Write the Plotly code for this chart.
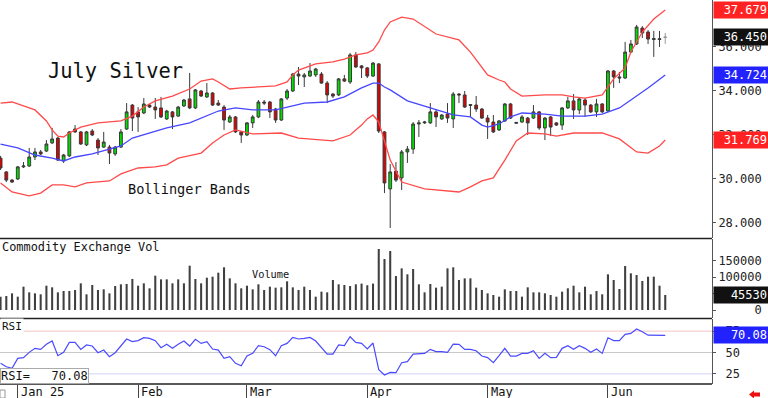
import plotly.graph_objects as go

# ---------------- data ----------------
opens = [30.95, 30.32, 29.95, 30.00, 30.55, 30.59, 31.00, 31.23, 31.27, 31.64,
         31.86, 30.82, 31.05, 32.27, 32.14, 31.55, 32.18, 31.77, 31.45, 31.45,
         31.14, 31.45, 32.27, 33.36, 33.05, 33.00, 33.36, 33.27, 33.23, 32.73,
         33.05, 32.86, 33.32, 33.64, 33.23, 34.00, 33.73, 33.91, 33.45, 33.27,
         32.59, 32.82, 32.14, 32.00, 32.55, 32.82, 33.50, 33.50, 33.18, 32.68,
         33.68, 34.00, 34.77, 34.64, 34.68, 34.73, 34.77, 34.36, 33.86, 33.82,
         34.55, 34.41, 35.64, 35.14, 35.05, 34.68, 35.23, 32.14, 29.55, 30.36,
         30.05, 31.23, 31.36, 32.50, 32.55, 32.55, 33.05, 32.73, 32.95, 32.73,
         33.86, 33.82, 33.34, 33.36, 33.18, 32.77, 32.59, 32.23, 32.64, 33.41,
         32.53, 32.59, 32.77, 32.77, 33.05, 32.32, 32.82, 32.55, 32.45, 33.23,
         33.55, 33.14, 33.59, 33.36, 33.05, 33.41, 33.09, 34.91, 34.64, 34.59,
         35.77, 36.14, 36.86, 36.68, 36.34, 36.38, 36.43]
highs = [31.05, 30.36, 30.00, 30.59, 30.77, 31.41, 31.41, 31.32, 31.77, 32.32,
         31.91, 31.14, 32.18, 32.45, 32.18, 32.18, 32.27, 31.86, 32.14, 31.55,
         31.50, 32.27, 33.45, 33.41, 33.27, 33.68, 33.41, 33.68, 33.73, 33.14,
         33.09, 33.32, 33.64, 34.82, 34.09, 34.05, 34.36, 33.95, 33.59, 33.36,
         32.91, 32.86, 32.18, 32.59, 32.91, 33.59, 33.59, 33.55, 33.23, 33.68,
         34.09, 34.82, 35.09, 34.82, 35.27, 35.05, 34.86, 34.45, 33.91, 34.59,
         34.73, 35.73, 35.77, 35.18, 35.09, 35.32, 35.27, 32.18, 30.68, 30.77,
         31.32, 31.50, 32.59, 32.68, 32.64, 33.45, 33.14, 32.95, 33.45, 33.95,
         33.91, 34.00, 33.41, 33.77, 33.23, 32.91, 32.91, 32.68, 33.45, 33.45,
         32.59, 32.91, 32.82, 33.36, 33.09, 32.82, 32.86, 32.59, 33.27, 33.73,
         33.86, 33.68, 33.68, 33.41, 33.64, 33.45, 34.95, 34.95, 34.86, 36.23,
         36.32, 37.00, 36.95, 36.77, 36.73, 36.73, 36.64]
lows = [30.41, 29.86, 29.82, 29.95, 30.50, 30.55, 30.86, 31.09, 31.23, 31.59,
        30.82, 30.73, 31.00, 32.09, 31.55, 31.50, 31.95, 31.09, 31.41, 30.68,
        31.05, 31.41, 32.23, 32.18, 32.14, 32.95, 33.23, 32.73, 32.77, 32.68,
        32.27, 32.82, 33.27, 33.18, 33.18, 33.73, 33.68, 33.32, 33.32, 32.23,
        32.55, 32.09, 31.64, 31.95, 32.32, 32.77, 33.36, 32.77, 32.55, 32.64,
        33.59, 33.95, 34.27, 34.18, 34.64, 34.64, 34.32, 33.45, 33.68, 33.77,
        34.41, 34.32, 35.05, 34.59, 34.59, 34.64, 32.09, 29.36, 27.77, 29.86,
        29.50, 30.73, 31.14, 31.91, 32.50, 32.50, 32.36, 32.68, 32.55, 32.32,
        33.45, 33.23, 32.82, 33.05, 32.73, 31.82, 32.09, 32.18, 32.59, 32.73,
        32.50, 32.55, 32.00, 32.73, 32.23, 31.77, 31.95, 32.41, 32.23, 33.18,
        32.73, 32.95, 32.82, 33.00, 32.82, 33.00, 33.05, 34.14, 34.36, 34.55,
        35.73, 36.09, 36.41, 36.14, 35.55, 36.00, 36.14]
closes = [30.50, 29.95, 29.86, 30.55, 30.59, 31.00, 31.23, 31.14, 31.59, 31.82,
          30.86, 31.09, 32.14, 32.14, 31.59, 32.14, 32.00, 31.41, 31.68, 31.18,
          31.45, 32.14, 33.05, 32.77, 32.82, 33.41, 33.27, 33.14, 32.82, 33.09,
          32.82, 33.27, 33.59, 33.23, 34.05, 33.77, 33.91, 33.36, 33.36, 32.68,
          32.82, 32.14, 32.00, 32.55, 32.82, 33.50, 33.45, 33.05, 32.68, 33.64,
          34.00, 34.77, 34.68, 34.73, 34.91, 35.00, 34.36, 33.82, 33.77, 34.55,
          34.45, 35.64, 35.09, 35.05, 34.68, 35.27, 32.18, 29.82, 30.32, 29.95,
          31.23, 31.36, 32.50, 32.55, 32.59, 33.05, 32.82, 32.91, 32.77, 33.86,
          33.82, 33.27, 33.38, 33.18, 32.77, 32.59, 32.14, 32.64, 33.41, 32.77,
          32.57, 32.82, 32.55, 33.05, 32.32, 32.77, 32.36, 32.45, 33.23, 33.55,
          33.14, 33.64, 33.36, 33.05, 33.41, 33.05, 34.91, 34.64, 34.59, 35.77,
          36.14, 36.91, 36.64, 36.36, 36.38, 36.34, 36.45]

volume = [40400, 42400, 50500, 40400, 70700, 53500, 50500, 47500, 73700, 68700,
          53500, 57600, 57600, 60600, 80800, 47500, 75800, 60600, 62600, 50500,
          72700, 77800, 78800, 93900, 73700, 80800, 65700, 104000, 92900, 92900,
          80800, 92900, 80800, 134300, 93900, 80800, 97900, 101000, 113100, 129300,
          95900, 80800, 65700, 73700, 62600, 77800, 60600, 70700, 67700, 68700,
          86900, 68700, 60600, 70700, 60600, 40400, 55600, 53500, 90900, 77800,
          75800, 72700, 77800, 80000, 75000, 80000, 184800, 154500, 178800, 103000,
          126200, 108100, 124200, 77800, 53500, 78800, 67700, 70700, 126200, 129300,
          90900, 95900, 95900, 67700, 60600, 50500, 45500, 40400, 62600, 57600,
          57600, 40400, 68700, 53500, 53500, 50500, 45500, 40400, 55600, 65700,
          73700, 53500, 70700, 47500, 57600, 47500, 108100, 90900, 63600, 133300,
          111100, 106100, 87900, 101000, 101000, 73700, 45530]

rsi = [37.4, 33.4, 31.5, 43.2, 44.0, 50.2, 54.9, 53.7, 59.6, 63.5,
       46.3, 50.2, 61.9, 61.9, 53.7, 58.8, 57.6, 49.8, 52.9, 45.1,
       49.8, 57.6, 65.8, 62.7, 63.9, 67.3, 66.6, 63.9, 55.7, 59.6,
       54.9, 59.6, 63.5, 57.6, 65.4, 60.7, 62.7, 54.1, 52.9, 43.2,
       45.1, 37.4, 34.6, 45.9, 49.0, 58.0, 56.8, 53.3, 46.3, 58.0,
       60.7, 67.7, 65.8, 66.6, 67.7, 63.5, 56.0, 48.2, 48.2, 58.8,
       58.0, 68.5, 61.9, 60.7, 54.1, 61.1, 30.0,
       23.7, 26.8, 26.4, 38.1, 39.3, 48.2, 49.0, 49.0, 53.7, 51.0,
       51.0, 50.2, 59.9, 59.6, 53.7, 53.7, 52.1, 45.9, 44.0, 38.1,
       46.3, 54.9, 45.9, 45.9, 49.0, 49.0, 52.1, 43.2, 49.0, 44.0,
       44.3, 54.9, 58.0, 53.7, 58.0, 54.9, 50.2, 54.1, 49.0, 67.3,
       63.9, 63.9, 71.3, 72.4, 77.5, 74.4, 70.3, 70.1, 69.9, 70.08]

bb_up_x = [0, 2, 6, 8, 9, 10, 11, 12, 14, 17, 21, 23, 25, 27, 30, 33, 35, 37, 38, 40,
           42, 45, 48, 50, 51, 52, 55, 58, 60, 62, 64, 65, 66, 67, 68, 70, 72, 76, 80, 82,
           85, 87, 88, 89, 91, 95, 98, 100, 102, 105, 106, 107, 109, 110, 112, 114, 116]
bb_up = [33.45, 33.50, 33.14, 32.64, 32.23, 31.95, 31.91, 32.09, 32.36, 32.55, 32.64, 32.86,
         33.27, 33.55, 33.77, 34.09, 34.45, 34.55, 34.41, 34.09, 34.14, 34.18, 34.23, 34.41,
         34.73, 34.95, 35.23, 35.32, 35.45, 35.64, 35.73, 35.86, 36.23, 36.77, 37.14, 37.36,
         37.27, 36.59, 36.32, 35.77, 34.73, 34.50, 34.41, 34.09, 33.77, 33.82, 33.82, 33.73,
         33.68, 33.82, 34.18, 34.55, 35.05, 35.77, 36.68, 37.27, 37.679]
bb_mid_x = [0, 3, 6, 9, 11, 13, 16, 19, 21, 23, 26, 29, 33, 36, 38, 41, 44, 48, 51, 53,
            57, 60, 63, 65, 66, 67, 68, 71, 75, 79, 82, 84, 85, 87, 89, 91, 95, 98, 102, 105,
            108, 110, 113, 116]
bb_mid = [31.59, 31.41, 31.09, 30.95, 30.82, 31.00, 31.14, 31.36, 31.50, 31.86, 32.09,
          32.32, 32.55, 32.86, 33.09, 33.23, 33.14, 33.14, 33.32, 33.45, 33.50, 33.73,
          34.14, 34.36, 34.36, 34.18, 34.05, 33.55, 33.23, 32.91, 32.82, 32.45, 32.36,
          32.50, 32.82, 33.00, 32.95, 32.86, 32.86, 32.95, 33.23, 33.59, 34.14, 34.724]
bb_lo_x = [0, 2, 5, 7, 9, 11, 13, 15, 19, 21, 24, 27, 29, 31, 35, 37, 39, 41, 44, 49,
           52, 56, 58, 61, 63, 64, 65, 66, 67, 68, 70, 74, 80, 82, 84, 86, 88, 90, 92, 95,
           97, 100, 105, 108, 111, 113, 115, 116]
bb_lo = [29.82, 29.41, 29.23, 29.36, 29.73, 29.73, 29.64, 29.82, 29.91, 30.23, 30.50,
         30.55, 30.64, 30.95, 31.18, 31.64, 32.00, 32.23, 32.05, 32.09, 31.86, 31.77,
         31.73, 32.00, 32.45, 32.73, 32.91, 32.59, 31.77, 30.86, 29.86, 29.55, 29.41,
         29.64, 29.91, 30.05, 30.86, 31.73, 32.09, 32.05, 31.95, 32.09, 32.09, 31.82,
         31.23, 31.18, 31.50, 31.769]

month_pos = [3, 24, 43, 64, 85, 106]
month_labels = ["Jan 25", "Feb", "Mar", "Apr", "May", "Jun"]

price_ticks = [28, 30, 32, 34, 36]
vol_ticks = [0, 50000, 100000, 150000]
rsi_ticks = [25, 50, 75]
rsi_levels = [75, 50, 25]

# ---------------- layout geometry ----------------
W, H = 768, 398
MR, MB = 56, 14
PW, PH = W - MR, H - MB
MONO = "DejaVu Sans Mono"


def fy(row):
    return 1 - row / PH


def fx(col):
    return col / PW


xs = list(range(len(opens)))

fig = go.Figure()

fig.add_trace(go.Candlestick(
    x=xs[:-1], open=opens[:-1], high=highs[:-1], low=lows[:-1], close=closes[:-1],
    increasing=dict(line=dict(color="#3a3a3a", width=1), fillcolor="#00dd00"),
    decreasing=dict(line=dict(color="#3a3a3a", width=1), fillcolor="#e00000"),
    xaxis="x", yaxis="y", hoverinfo="skip"))
fig.add_trace(go.Candlestick(
    x=xs[-1:], open=opens[-1:], high=highs[-1:], low=lows[-1:], close=closes[-1:],
    increasing=dict(line=dict(color="#999999", width=1), fillcolor="#bbbbbb"),
    decreasing=dict(line=dict(color="#999999", width=1), fillcolor="#bbbbbb"),
    xaxis="x", yaxis="y", hoverinfo="skip"))

fig.add_trace(go.Scatter(x=bb_up_x, y=bb_up, mode="lines",
                         line=dict(color="#ff4a4a", width=1.3), xaxis="x", yaxis="y"))
fig.add_trace(go.Scatter(x=bb_mid_x, y=bb_mid, mode="lines",
                         line=dict(color="#4646ff", width=1.3), xaxis="x", yaxis="y"))
fig.add_trace(go.Scatter(x=bb_lo_x, y=bb_lo, mode="lines",
                         line=dict(color="#ff4a4a", width=1.3), xaxis="x", yaxis="y"))

fig.add_trace(go.Bar(x=xs, y=volume, width=0.36, marker=dict(color="#404040", line=dict(width=0)),
                     xaxis="x2", yaxis="y2"))

fig.add_trace(go.Scatter(x=xs, y=rsi, mode="lines", line=dict(color="#4a4aff", width=1.2),
                         xaxis="x3", yaxis="y3"))

xr = [-0.1, 124.16]
common_x = dict(range=xr, showgrid=False, zeroline=False, showline=False,
                showticklabels=False, ticks="", fixedrange=True)

tickfont = dict(family=MONO, size=12, color="#222")
yc = dict(side="right", showgrid=False, zeroline=False, showline=True, linecolor="#555",
          linewidth=1, ticks="outside", ticklen=3, tickcolor="#555", tickfont=tickfont,
          automargin=False, fixedrange=True)

fig.update_layout(
    width=W, height=H, margin=dict(l=0, r=MR, t=0, b=MB, autoexpand=False),
    paper_bgcolor="white", plot_bgcolor="white", showlegend=False, hovermode=False,
    xaxis=dict(common_x, domain=[0, 1], anchor="y", rangeslider=dict(visible=False)),
    xaxis2=dict(common_x, domain=[0, 1], anchor="y2", matches="x"),
    xaxis3=dict(common_x, domain=[0, 1], anchor="y3", matches="x",
                tickvals=month_pos, ticks="outside", ticklen=13, tickcolor="#444", tickwidth=1),
    yaxis=dict(yc, domain=[fy(238), 1], range=[38.136 - 238 / 22, 38.136],
               tickvals=price_ticks, ticktext=[f"{v:.3f}" for v in price_ticks]),
    yaxis2=dict(yc, domain=[fy(318), fy(239)], range=[-24240, 215130],
                tickvals=vol_ticks, ticktext=[f"{v:>6d}".replace(" ", "\u00a0") for v in vol_ticks]),
    yaxis3=dict(yc, domain=[0, fy(319)], range=[13.2, 89.2],
                tickvals=rsi_ticks, ticktext=["\u00a0" + str(v) for v in rsi_ticks]),
)

shapes = []
# panel separators
for row, w in [(238.5, 1.6), (318.5, 1.6), (384, 1.4)]:
    shapes.append(dict(type="line", xref="paper", yref="paper", x0=0, x1=1,
                       y0=fy(row), y1=fy(row), line=dict(color="#222", width=w)))
# RSI reference levels
for lvl, col in zip(rsi_levels, ["#f6c4c4", "#c8c8c8", "#d2d2f6"]):
    shapes.append(dict(type="line", xref="paper", yref="y3", x0=0, x1=1, y0=lvl, y1=lvl,
                       line=dict(color=col, width=1), layer="below"))
# small box lower-left and red arrow lower-right
shapes.append(dict(type="rect", xref="paper", yref="paper", x0=fx(0), x1=fx(5),
                   y0=fy(398), y1=fy(390), line=dict(color="#999", width=1)))
ax0 = 749
shapes.append(dict(type="path", xref="paper", yref="paper",
                   path=(f"M {fx(ax0)} {fy(394.5)} L {fx(ax0 + 5)} {fy(390.5)} L {fx(ax0 + 5)} {fy(392.5)} "
                         f"L {fx(ax0 + 11)} {fy(392.5)} L {fx(ax0 + 11)} {fy(396.5)} L {fx(ax0 + 5)} {fy(396.5)} "
                         f"L {fx(ax0 + 5)} {fy(398.5)} Z"),
                   fillcolor="#ee1111", line=dict(width=0)))
fig.update_layout(shapes=shapes)

ann = []


def text_ann(txt, col, row, size, **kw):
    d = dict(text=txt, xref="paper", yref="paper", x=fx(col), y=fy(row), xanchor="left",
             yanchor="middle", showarrow=False, font=dict(family=MONO, size=size, color="#111"))
    d.update(kw)
    return d


ann.append(text_ann("July Silver", 46, 71, 20.4))
ann.append(text_ann("Bollinger Bands", 126, 189, 13.6))
ann.append(text_ann("Commodity Exchange Vol", 0, 246.5, 11.9))
ann.append(text_ann("Volume", 250, 273.5, 10.3))
ann.append(text_ann("RSI", 0, 326.5, 11, bgcolor="white"))
ann.append(dict(text=f"RSI=\u00a0\u00a0\u00a0{rsi[-1]:.2f}", xref="paper", yref="paper", x=0,
                y=fy(384), xanchor="left", yanchor="bottom", showarrow=False,
                font=dict(family=MONO, size=12, color="#111"), bgcolor="white",
                bordercolor="#aaaaaa", borderwidth=1, borderpad=0))

for pos, lab in zip(month_pos, month_labels):
    ann.append(dict(text=lab, xref="x3", x=pos, xshift=1, xanchor="left", yref="paper",
                    y=fy(391.5), yanchor="middle", showarrow=False,
                    font=dict(family=MONO, size=12, color="#111")))


def value_box(txt, yref, yval, bg):
    return dict(text=txt, xref="paper", x=1, xanchor="left", xshift=1, yref=yref, y=yval,
                yanchor="middle", showarrow=False, bgcolor=bg, width=52, align="right",
                borderpad=1, font=dict(family=MONO, size=12, color="white"))


ann.append(value_box(f"{bb_up[-1]:.3f}", "y", bb_up[-1], "#ff2222"))
ann.append(value_box(f"{closes[-1]:.3f}", "y", closes[-1], "#111111"))
ann.append(value_box(f"{bb_mid[-1]:.3f}", "y", bb_mid[-1], "#2222ff"))
ann.append(value_box(f"{bb_lo[-1]:.3f}", "y", bb_lo[-1], "#ff2222"))
ann.append(value_box(f"{volume[-1]}", "y2", volume[-1], "#111111"))
ann.append(value_box(f"{rsi[-1]:.2f}", "y3", rsi[-1], "#2222ff"))

fig.update_layout(annotations=ann)

fig.write_html("out.html", config={"displayModeBar": False, "staticPlot": True},
               post_script="document.body.style.margin='0';document.body.style.overflow='hidden';")
